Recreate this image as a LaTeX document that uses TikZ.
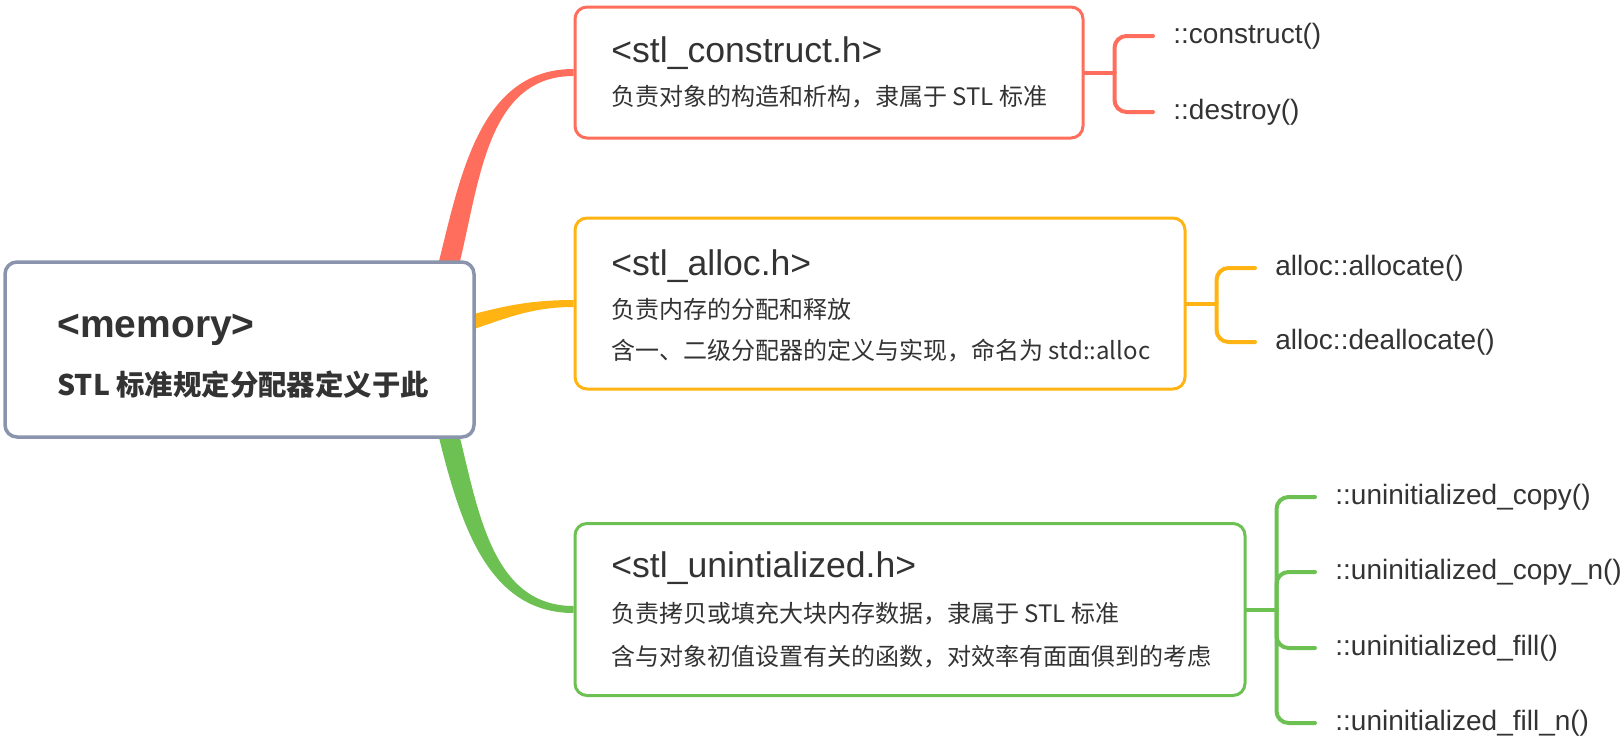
\documentclass[tikz,border=0pt]{standalone}
\usepackage{fontspec}
\setmainfont{Liberation Sans}
\newfontfamily\cjk{Noto Sans CJK SC}
\usetikzlibrary{backgrounds}
\definecolor{redc}{HTML}{FF6E5C}
\definecolor{yelc}{HTML}{FFB413}
\definecolor{grnc}{HTML}{6CC152}
\definecolor{rootc}{HTML}{8A95AD}
\definecolor{txt}{HTML}{333333}
\tikzset{
  topic/.style={draw=#1, line width=1.5pt, rounded corners=6pt, fill=white, inner sep=0pt},
  topictitle/.style={anchor=west, inner sep=0pt, text=txt, font=\fontsize{17.8}{20}\selectfont},
  topicsub/.style={anchor=west, inner sep=0pt, text=txt, font=\cjk\fontsize{12}{14}\selectfont},
  leaf/.style={anchor=west, inner xsep=10pt, inner ysep=0pt, text=txt, font=\fontsize{14}{16}\selectfont},
  brk/.style={draw=#1, line width=2pt, rounded corners=6pt}
}
\begin{document}
\begin{tikzpicture}[x=0.5pt, y=0.5pt, every path/.style={line cap=round}]
  \useasboundingbox (0,0) rectangle (1624,-744);
  %root
  \node[topic=rootc, line width=1.75pt, minimum width=234.5pt, minimum height=87.5pt] (root) at (239.5,-349.5) {};
  \node[anchor=west, inner sep=0pt, text=txt, font=\bfseries\fontsize{19.5}{22}\selectfont] (memtitle) at (57,-330) {<memory>};
  \node[anchor=west, inner sep=0pt, text=txt, font=\cjk\bfseries\fontsize{14.2}{17}\selectfont] (memsub) at (57,-385) {STL 标准规定分配器定义于此};
  %topics
  \node[topic=redc, minimum width=254pt, minimum height=65.5pt] (construct) at (829,-72.5) {};
  \node[topictitle] (constitle) at (611,-53) {<stl\_construct.h>};
  \node[topicsub] (conssub) at (611,-97) {负责对象的构造和析构，隶属于 STL 标准};
  \node[topic=yelc, minimum width=305pt, minimum height=85.5pt] (alloc) at (880,-303.5) {};
  \node[topictitle] (alloctitle) at (611,-266) {<stl\_alloc.h>};
  \node[topicsub] (allocsubA) at (611,-309) {负责内存的分配和释放};
  \node[topicsub] (allocsubB) at (611,-351) {含一、二级分配器的定义与实现，命名为 std::alloc};
  \node[topic=grnc, minimum width=335pt, minimum height=86pt] (uninit) at (910,-609.5) {};
  \node[topictitle] (uninittitle) at (611,-568) {<stl\_unintialized.h>};
  \node[topicsub] (uninitsubA) at (611,-614) {负责拷贝或填充大块内存数据，隶属于 STL 标准};
  \node[topicsub] (uninitsubB) at (611,-657) {含与对象初值设置有关的函数，对效率有面面俱到的考虑};
  %leaves
  \node[leaf] (consA) at (1153,-36) {::construct()};
  \node[leaf] (consB) at (1153,-112) {::destroy()};
  \node[leaf] (allocA) at (1255,-268) {alloc::allocate()};
  \node[leaf] (allocB) at (1255,-342) {alloc::deallocate()};
  \node[leaf] (uninitA) at (1315,-497) {::uninitialized\_copy()};
  \node[leaf] (uninitB) at (1315,-572) {::uninitialized\_copy\_n()};
  \node[leaf] (uninitC) at (1315,-648) {::uninitialized\_fill()};
  \node[leaf] (uninitD) at (1315,-723) {::uninitialized\_fill\_n()};
  %main branches
  \begin{pgfonlayer}{background}
    \fill[redc] ([xshift=-19pt,yshift=-3pt]root.north east) to[out=76,in=180] ([yshift=1.75pt]construct.west)
      -- ([yshift=-1.75pt]construct.west) to[out=180,in=76] ([xshift=-8.5pt,yshift=-3pt]root.north east) -- cycle;
    \fill[yelc] ([xshift=-15pt,yshift=14pt]root.east) to[out=15,in=180] ([yshift=1.75pt]alloc.west)
      -- ([yshift=-1.75pt]alloc.west) to[out=180,in=15] ([xshift=-15pt,yshift=6pt]root.east) -- cycle;
    \fill[grnc] ([xshift=-19pt,yshift=3pt]root.south east) to[out=-76,in=180] ([yshift=-1.75pt]uninit.west)
      -- ([yshift=1.75pt]uninit.west) to[out=180,in=-76] ([xshift=-8.5pt,yshift=3pt]root.south east) -- cycle;
  \end{pgfonlayer}
  %brackets
  \draw[brk=redc] (construct.east) -- ++(15pt,0) coordinate (consstem);
  \draw[brk=redc] (consstem) |- (consA.west);
  \draw[brk=redc] (consstem) |- (consB.west);
  \draw[brk=yelc] (alloc.east) -- ++(15pt,0) coordinate (allocstem);
  \draw[brk=yelc] (allocstem) |- (allocA.west);
  \draw[brk=yelc] (allocstem) |- (allocB.west);
  \draw[brk=grnc] (uninit.east) -- ++(15pt,0) coordinate (uninitstem);
  \foreach \l in {uninitA,uninitB,uninitC,uninitD}
    \draw[brk=grnc] (uninitstem) |- (\l.west);
\end{tikzpicture}
\end{document}
